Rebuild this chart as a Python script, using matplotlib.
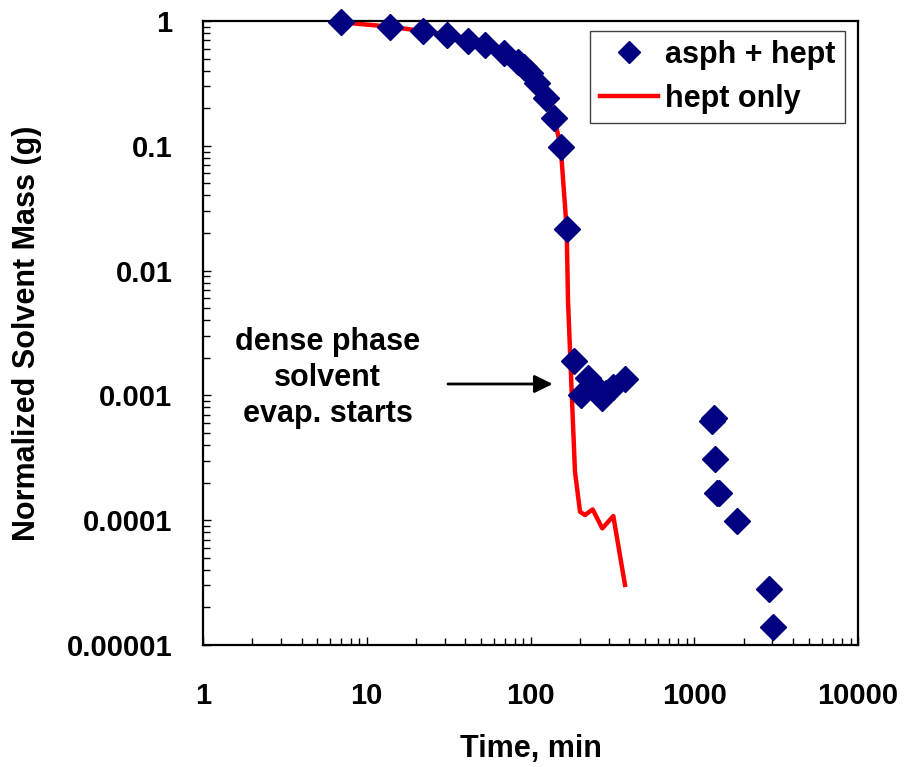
import matplotlib
matplotlib.use("Agg")
import matplotlib.pyplot as plt
from matplotlib.ticker import FixedLocator, FixedFormatter, LogLocator, NullFormatter

plt.rcParams['font.family'] = ['Liberation Sans', 'DejaVu Sans']
plt.rcParams['font.weight'] = 'bold'

# asph + hept (diamonds)
asph_t = [7, 13.9, 22, 30.8, 41.7, 52.7, 69.2, 84.3, 91.3, 99.3, 110, 124.4, 139.8, 152.9, 166.3,
          185, 202.6, 225, 252, 274, 289, 320, 378,
          1280, 1320, 1339, 1385, 1420, 1816, 2872, 3040]
asph_m = [0.976, 0.90, 0.83, 0.777, 0.695, 0.642, 0.557, 0.472, 0.43, 0.381, 0.32, 0.24, 0.166, 0.098, 0.0216,
          0.0019, 0.00101, 0.00137, 0.00117, 0.00095, 0.00105, 0.00116, 0.00135,
          0.00062, 0.00066, 0.000309, 0.000166, 0.000166, 0.0000991, 0.0000281, 0.000014]

# hept only (red line)
hept_t = [7, 13.9, 22, 30.8, 41.7, 52.7, 69.2, 84.3, 99.3, 110, 124.4, 139.8, 152.9, 166.3,
          169.4, 178.5, 186.9, 200.6, 215, 239.7, 274.5, 320.4, 377.6]
hept_m = [0.976, 0.90, 0.83, 0.777, 0.695, 0.642, 0.557, 0.472, 0.381, 0.32, 0.24, 0.166, 0.098, 0.0216,
          0.0058, 0.00105, 0.000245, 0.000117, 0.00011, 0.000122, 0.000086, 0.000108, 0.0000303]

x_ticks = [1, 10, 100, 1000, 10000]
x_labels = ['1', '10', '100', '1000', '10000']
y_ticks = [1e-5, 1e-4, 1e-3, 1e-2, 1e-1, 1]
y_labels = ['0.00001', '0.0001', '0.001', '0.01', '0.1', '1']

fig = plt.figure(figsize=(9.08, 7.67), dpi=100)
ax = fig.add_axes([203/908, 1-645/767, 655/908, 624/767])

ax.plot(hept_t, hept_m, color='red', lw=3.2, label='hept only', zorder=2)
ax.plot(asph_t, asph_m, linestyle='none', marker='D', ms=13.5, color='#000080',
        markeredgecolor='#000080', label='asph + hept', zorder=3, clip_on=False)

ax.set_xscale('log')
ax.set_yscale('log')
ax.set_xlim(1, 10000)
ax.set_ylim(1e-5, 1)

ax.xaxis.set_major_locator(FixedLocator(x_ticks))
ax.xaxis.set_major_formatter(FixedFormatter(x_labels))
ax.yaxis.set_major_locator(FixedLocator(y_ticks))
ax.yaxis.set_major_formatter(FixedFormatter(y_labels))
ax.xaxis.set_minor_locator(LogLocator(base=10, subs=range(2, 10), numticks=20))
ax.yaxis.set_minor_locator(LogLocator(base=10, subs=range(2, 10), numticks=20))
ax.xaxis.set_minor_formatter(NullFormatter())
ax.yaxis.set_minor_formatter(NullFormatter())

ax.tick_params(axis='both', which='both', direction='in', top=False, right=False, width=1)
ax.tick_params(axis='both', which='major', length=6, labelsize=21)
ax.tick_params(axis='both', which='minor', length=5)
ax.tick_params(axis='x', which='major', pad=27)
ax.tick_params(axis='y', which='major', pad=22)
for lab in ax.get_xticklabels() + ax.get_yticklabels():
    lab.set_fontweight('bold')

for s in ax.spines.values():
    s.set_linewidth(1.6)

ax.set_xlabel('Time, min', fontsize=22, fontweight='bold', labelpad=17)
ax.set_ylabel('Normalized Solvent Mass (g)', fontsize=22, fontweight='bold', labelpad=18)

handles, labels = ax.get_legend_handles_labels()
leg = ax.legend(handles[::-1], labels[::-1], loc='upper right', bbox_to_anchor=(0.98, 0.984),
                borderaxespad=0, fontsize=22, frameon=True, fancybox=False,
                edgecolor='#404040', framealpha=1, handlelength=1.9, handletextpad=0.25,
                borderpad=0.3, labelspacing=0.45, markerscale=0.85, numpoints=1)
leg.get_frame().set_linewidth(1.0)
for t in leg.get_texts():
    t.set_fontweight('bold')

ax.text(0.19, 0.428, 'dense phase\nsolvent\nevap. starts', transform=ax.transAxes,
        ha='center', va='center', fontsize=22, fontweight='bold', linespacing=1.25)
ax.annotate('', xy=(0.534, 0.4183), xytext=(0.374, 0.4183),
            xycoords='axes fraction', textcoords='axes fraction',
            arrowprops=dict(arrowstyle='-|>,head_length=0.55,head_width=0.27',
                            mutation_scale=20, lw=2, color='black',
                            shrinkA=0, shrinkB=0))

fig.savefig('out.png', dpi=100)
